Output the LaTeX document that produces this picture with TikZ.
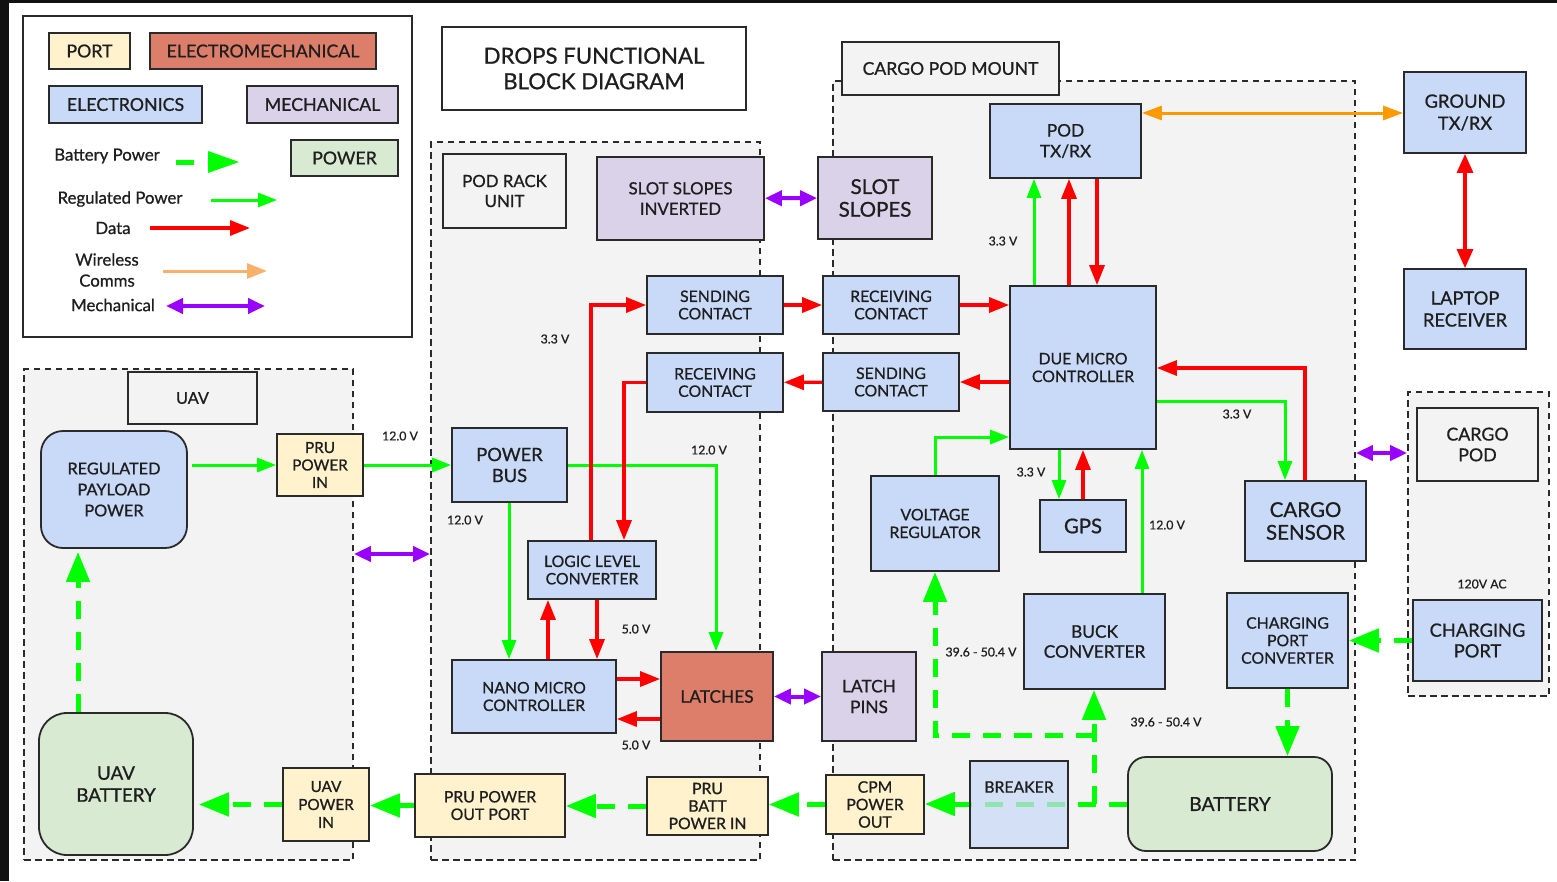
\documentclass[tikz,border=0pt]{standalone}
\usepackage{fontspec}
\setmainfont{Lato}[FakeBold=0.8]
\usetikzlibrary{arrows.meta}

\definecolor{portc}{HTML}{FFF2CC}
\definecolor{emc}{HTML}{DD7E6B}
\definecolor{elec}{HTML}{C9DAF8}
\definecolor{mech}{HTML}{D9D2E9}
\definecolor{powc}{HTML}{D9EAD3}
\definecolor{regfill}{HTML}{F3F3F3}
\definecolor{boxline}{HTML}{2A2A2A}
\definecolor{txt}{HTML}{1E1E1E}
\definecolor{grn}{HTML}{00FF00}
\definecolor{rd}{HTML}{FF0000}
\definecolor{orng}{HTML}{FF9900}
\definecolor{lorng}{HTML}{F6B26B}
\definecolor{purp}{HTML}{9900FF}
\definecolor{edge}{HTML}{111111}

\tikzset{
  ft/.style 2 args={font=\fontsize{#1}{#2}\selectfont},
  blk/.style={draw=boxline, line width=1.8pt, align=center, inner sep=0pt, text=txt},
  portbox/.style={blk, fill=portc},
  embox/.style={blk, fill=emc},
  elbox/.style={blk, fill=elec},
  mebox/.style={blk, fill=mech},
  pwbox/.style={blk, fill=powc},
  graybox/.style={blk, fill=regfill},
  plainbox/.style={blk, fill=white},
  region/.style={draw=boxline, line width=1.8pt, dash pattern=on 6.5pt off 4.5pt, fill=regfill, inner sep=0pt},
  vlabel/.style={text=txt, ft={12.3}{14}, inner sep=0pt},
  legtext/.style={text=txt, ft={16.8}{20}, inner sep=0pt, align=center},
  reg/.style={draw=grn, line width=3pt, -{Triangle[length=19pt,width=14pt]}},
  dat/.style={draw=rd, line width=3.2pt, -{Triangle[length=20pt,width=15pt]}},
  datboth/.style={draw=rd, line width=3.2pt, {Triangle[length=19pt,width=16pt]}-{Triangle[length=19pt,width=16pt]}},
  bat/.style={draw=grn, line width=5pt, dash pattern=on 18pt off 13pt, -{Triangle[length=30pt,width=23pt]}},
  mec/.style={draw=purp, line width=4pt, {Triangle[length=17pt,width=15pt]}-{Triangle[length=17pt,width=15pt]}},
  wir/.style={draw=orng, line width=3pt, {Triangle[length=20pt,width=14pt]}-{Triangle[length=20pt,width=14pt]}},
}

% box from its corners: style, name, x1, y1, x2, y2, text
\newcommand\putbox[7]{%
  \node[#1, minimum width={(#5-#3)*1pt}, minimum height={(#6-#4)*1pt}]
    (#2) at ({(#3+#5)/2},{(#4+#6)/2}) {#7};}

\begin{document}
\begin{tikzpicture}[x=1pt,y=-1pt]
\useasboundingbox (0,0) rectangle (1557,881);
\fill[white] (0,0) rectangle (1557,881);
\fill[edge] (0,0) rectangle (9,881);
\fill[edge] (0,0) rectangle (1557,2.5);

% ---------- legend and title ----------
\putbox{plainbox}{legend}{23}{16}{412}{337}{}
\putbox{plainbox, ft={22.2}{25.5}}{title}{442}{27}{746}{110}{DROPS FUNCTIONAL\\BLOCK DIAGRAM}
\putbox{portbox, ft={17.8}{20}}{lport}{49}{33}{130}{69}{PORT}
\putbox{embox, ft={17.8}{20}}{lem}{150}{33}{376}{69}{ELECTROMECHANICAL}
\putbox{elbox, ft={17.8}{20}}{lel}{49}{86}{202}{123}{ELECTRONICS}
\putbox{mebox, ft={17.8}{20}}{lme}{247}{86}{398}{123}{MECHANICAL}
\putbox{pwbox, ft={17.8}{20}}{lpw}{291}{140}{398}{176}{POWER}

\node[legtext] (tbat) at (107,156) {Battery Power};
\node[legtext] (treg) at (120,199) {Regulated Power};
\node[legtext] (tdat) at (113,228) {Data};
\node[legtext, ft={16.8}{21}] (twir) at (107,270) {Wireless\\Comms};
\node[legtext] (tmec) at (113,305) {Mechanical};

\coordinate (kb1) at (176,162); \coordinate (kb2) at (194,162);
\coordinate (kb3) at (208,151); \coordinate (kb4) at (239,162); \coordinate (kb5) at (208,173);
\draw[grn, line width=5pt] (kb1) -- (kb2);
\fill[grn] (kb3) -- (kb4) -- (kb5) -- cycle;
\coordinate (kr1) at (211,200); \coordinate (kr2) at (277,200);
\draw[reg] (kr1) -- (kr2);
\coordinate (kd1) at (150,228); \coordinate (kd2) at (250,228);
\draw[dat] (kd1) -- (kd2);
\coordinate (kw1) at (163,271); \coordinate (kw2) at (267,271);
\draw[draw=lorng, line width=3pt, -{Triangle[length=20pt,width=15pt]}] (kw1) -- (kw2);
\coordinate (km1) at (166,306); \coordinate (km2) at (265,306);
\draw[mec] (km1) -- (km2);

% ---------- dashed enclosures ----------
\putbox{region}{uavreg}{24}{369}{353}{860}{}
\putbox{region}{podrack}{431}{142}{760}{860}{}
\putbox{region}{mount}{833}{81}{1355}{860}{}
\putbox{region}{cpreg}{1408}{392}{1549}{696}{}

% ---------- UAV ----------
\putbox{graybox, ft={16.3}{19}}{uavlbl}{128}{372}{257}{424}{UAV}
\putbox{elbox, rounded corners=22pt, ft={16.3}{21}}{regpp}{41}{431}{187}{548}{REGULATED\\PAYLOAD\\POWER}
\putbox{pwbox, rounded corners=28pt, ft={18.8}{22}}{uavbat}{39}{713}{193}{855}{UAV\\BATTERY}
\putbox{portbox, ft={15.3}{17.5}}{pruin}{277}{434}{363}{496}{PRU\\POWER\\IN}
\putbox{portbox, ft={15.3}{18}}{uavin}{283}{768}{369}{841}{UAV\\POWER\\IN}

% ---------- pod rack unit ----------
\putbox{graybox, ft={16.8}{20}}{prunit}{443}{154}{566}{228}{POD RACK\\UNIT}
\putbox{mebox, ft={16.8}{20.5}}{ssi}{597}{157}{764}{240}{SLOT SLOPES\\INVERTED}
\putbox{elbox, ft={15.8}{17.4}}{sc1}{647}{276}{783}{334}{SENDING\\CONTACT}
\putbox{elbox, ft={15.8}{17.4}}{rc1}{647}{353}{783}{412}{RECEIVING\\CONTACT}
\putbox{elbox, ft={18.3}{21}}{pbus}{452}{428}{567}{502}{POWER\\BUS}
\putbox{elbox, ft={15.8}{17.4}}{llc}{528}{541}{656}{599}{LOGIC LEVEL\\CONVERTER}
\putbox{elbox, ft={15.8}{17.6}}{nano}{452}{660}{616}{733}{NANO MICRO\\CONTROLLER}
\putbox{embox, ft={17.3}{20}}{lat}{661}{652}{773}{741}{LATCHES}
\putbox{portbox, ft={15.8}{17.5}}{pruout}{415}{774}{565}{837}{PRU POWER\\OUT PORT}
\putbox{portbox, ft={15.8}{17.5}}{prubatt}{647}{777}{768}{835}{PRU\\BATT\\POWER IN}

% ---------- cargo pod mount ----------
\putbox{graybox, ft={17.6}{20}}{mountlbl}{842}{42}{1059}{95}{CARGO POD MOUNT}
\putbox{mebox, ft={20.5}{22.7}}{ss}{818}{157}{932}{239}{SLOT\\SLOPES}
\putbox{elbox, ft={17.3}{20.7}}{pod}{990}{104}{1141}{178}{POD\\TX/RX}
\putbox{elbox, ft={15.8}{17.4}}{rc2}{823}{276}{959}{334}{RECEIVING\\CONTACT}
\putbox{elbox, ft={15.8}{17.4}}{sc2}{823}{353}{959}{411}{SENDING\\CONTACT}
\putbox{elbox, ft={15.8}{17.7}}{due}{1010}{286}{1156}{449}{DUE MICRO\\CONTROLLER}
\putbox{elbox, ft={15.8}{17.7}}{vr}{871}{476}{999}{571}{VOLTAGE\\REGULATOR}
\putbox{elbox, ft={20.3}{22}}{gps}{1040}{500}{1126}{552}{GPS}
\putbox{elbox, ft={20.5}{22.7}}{cs}{1245}{481}{1366}{561}{CARGO\\SENSOR}
\putbox{mebox, ft={17.3}{20.7}}{lpins}{822}{652}{916}{741}{LATCH\\PINS}
\putbox{elbox, ft={17.3}{20}}{buck}{1024}{594}{1165}{689}{BUCK\\CONVERTER}
\putbox{elbox, ft={15.8}{17.5}}{cpc}{1227}{593}{1348}{688}{CHARGING\\PORT\\CONVERTER}
\putbox{pwbox, rounded corners=18pt, ft={19.3}{22}}{batt}{1128}{757}{1332}{851}{BATTERY}
\putbox{portbox, ft={15.8}{17.5}}{cpm}{826}{775}{924}{834}{CPM\\POWER\\OUT}

% ---------- external units ----------
\putbox{elbox, ft={18.3}{22}}{gnd}{1404}{72}{1526}{153}{GROUND\\TX/RX}
\putbox{elbox, ft={18.3}{22}}{lap}{1404}{269}{1526}{349}{LAPTOP\\RECEIVER}
\putbox{graybox, ft={17.8}{20.7}}{cpod}{1417}{408}{1538}{481}{CARGO\\POD}
\putbox{elbox, ft={18.3}{20.7}}{cport}{1413}{600}{1542}{681}{CHARGING\\PORT}

% ---------- battery power through the breaker ----------
\draw[bat] (batt.west) -- (cpm.east |- batt.west);
\putbox{blk, fill=elec, fill opacity=0.72, text opacity=1}{brk}{970}{761}{1068}{848}{}
\node[text=txt, ft={15.8}{18}, inner sep=0pt] (brktext) at (1019,787) {BREAKER};
\coordinate (jn) at (1094,735);
\draw[bat] (1094,0 |- batt.west) -- (1094,0 |- buck.south);
\draw[bat] (jn) -| (vr.south);
\draw[bat] (cport) -- (cpc);
\draw[bat] (cpc.south) -- (cpc.south |- batt.north);
\draw[bat] (cpm.west) -- (prubatt.east |- cpm.west);
\draw[bat] (prubatt.west) -- (pruout.east |- prubatt.west);
\draw[bat] (pruout.west) -- (uavin.east |- pruout.west);
\draw[bat, shorten >=5pt] (uavin.west) -- (uavbat.east |- uavin.west);
\draw[bat, shorten >=3pt] (78,0 |- uavbat.north) -- (78,0 |- regpp.south);

% ---------- regulated power ----------
\draw[reg] (192,0 |- pruin.west) -- (pruin.west);
\draw[reg] (pruin) -- (pbus);
\draw[reg] (pbus.east) -| (716,0 |- lat.north);
\draw[reg] (509,0 |- pbus.south) -- (509,0 |- nano.north);
\draw[reg] (1034,0 |- due.north) -- (1034,0 |- pod.south);
\draw[reg] (due.east |- 0,401) -| (1285,0 |- cs.north);
\draw[reg] (vr.north) |- (due.west |- 0,437);
\draw[reg] (1059,0 |- due.south) -- (1059,0 |- gps.north);
\draw[reg] (1142,0 |- buck.north) -- (1142,0 |- due.south);

% ---------- data ----------
\draw[dat] (591,0 |- llc.north) |- (sc1.west);
\draw[dat] (rc1.west) -| (624,0 |- llc.north);
\draw[dat] (548,0 |- nano.north) -- (548,0 |- llc.south);
\draw[dat] (597,0 |- llc.south) -- (597,0 |- nano.north);
\draw[dat] (nano.east |- 0,679) -- (lat.west |- 0,679);
\draw[dat] (lat.west |- 0,719) -- (nano.east |- 0,719);
\draw[dat] (sc1) -- (rc2);
\draw[dat] (rc2.east) -- (due.west |- rc2.east);
\draw[dat] (due.west |- sc2.east) -- (sc2.east);
\draw[dat] (sc2) -- (rc1);
\draw[dat] (1069,0 |- due.north) -- (1069,0 |- pod.south);
\draw[dat] (1097,0 |- pod.south) -- (1097,0 |- due.north);
\draw[dat] (1305,0 |- cs.north) |- (due.east |- 0,368);
\draw[dat] (gps.north) -- (gps.north |- due.south);
\draw[datboth] (gnd) -- (lap);

% ---------- wireless and mechanical ----------
\draw[wir] (pod.east |- 0,113) -- (gnd.west |- 0,113);
\draw[mec] (ssi) -- (ss);
\draw[mec] (lat) -- (lpins);
\draw[mec] (uavreg.east |- 0,554) -- (podrack.west |- 0,554);
\draw[mec] (mount.east |- 0,453) -- (cpreg.west |- 0,453);

% ---------- voltage labels ----------
\node[vlabel] (v1) at (400,436) {12.0 V};
\node[vlabel] (v2) at (555,339) {3.3 V};
\node[vlabel] (v3) at (709,450) {12.0 V};
\node[vlabel] (v4) at (465,520) {12.0 V};
\node[vlabel] (v5) at (636,629) {5.0 V};
\node[vlabel] (v6) at (636,745) {5.0 V};
\node[vlabel] (v7) at (1003,241) {3.3 V};
\node[vlabel] (v8) at (1237,414) {3.3 V};
\node[vlabel] (v9) at (1031,472) {3.3 V};
\node[vlabel] (v10) at (1167,525) {12.0 V};
\node[vlabel] (v11) at (981,652) {39.6 - 50.4 V};
\node[vlabel] (v12) at (1166,722) {39.6 - 50.4 V};
\node[vlabel] (v13) at (1482,584) {120V AC};
\end{tikzpicture}
\end{document}
